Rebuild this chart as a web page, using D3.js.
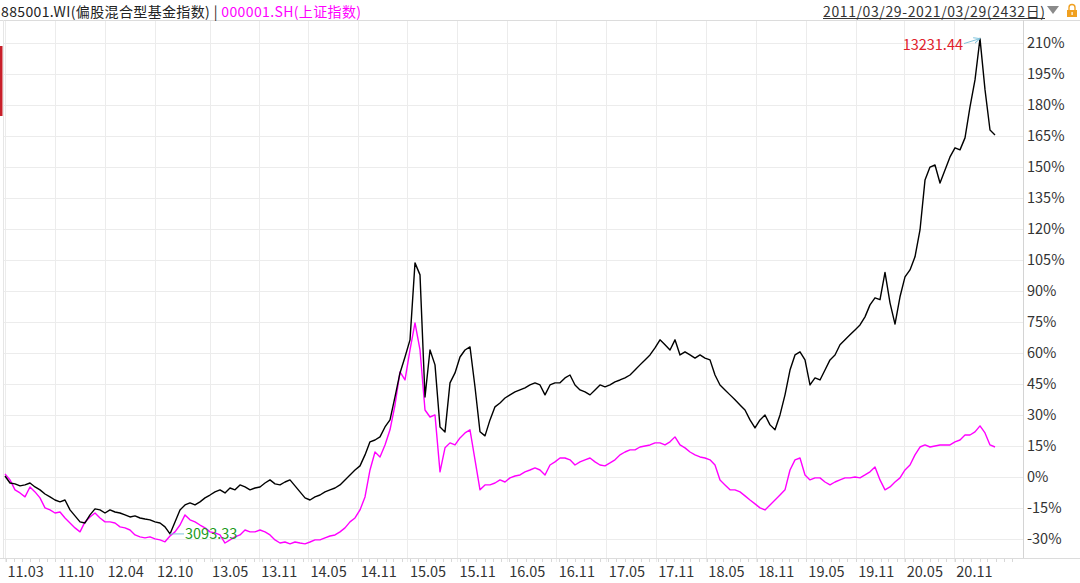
<!DOCTYPE html>
<html><head><meta charset="utf-8">
<script src="https://cdn.jsdelivr.net/npm/d3@7"></script>
<style>
body{margin:0;background:#fff;}
svg{display:block;font-family:"Noto Sans CJK SC","Noto Sans",sans-serif;}
</style>
</head><body>
<svg id="chart" width="1080" height="583"></svg>
<script>
// ---- data (cumulative return, %) ----
const startDate = "2011-03-29";
const endDate = "2021-03-29";
const fundSeriesName = "885001.WI(偏股混合型基金指数)";
const shSeriesName = "000001.SH(上证指数)";
const rangeLabel = "2011/03/29-2021/03/29(2432日)";
const maxLabel = "13231.44";
const minLabel = "3093.33";

const fundValues = [
  0.6, -2.8, -3.2, -4.2, -3.7, -2.8, -4.7, -6.1, -8.1, -9.5,
  -11.0, -11.9, -11.0, -15.8, -18.7, -21.6, -22.1, -18.2, -15.3, -15.8,
  -17.3, -15.8, -16.8, -17.3, -18.2, -19.2, -18.7, -19.7, -20.2, -20.6,
  -21.6, -22.1, -24.0, -27.4, -21.6, -15.8, -13.4, -12.4, -13.4, -11.9,
  -10.0, -8.6, -7.1, -6.1, -7.6, -5.2, -6.1, -3.7, -4.7, -6.1,
  -5.2, -4.7, -2.8, -1.3, -3.2, -3.7, -2.3, -1.3, -4.2, -7.1,
  -10.0, -11.0, -9.5, -8.6, -7.1, -6.1, -5.2, -3.7, -1.3, 1.1,
  3.5, 5.5, 10.8, 17.1, 18.0, 19.5, 24.3, 27.7, 38.8, 50.4,
  58.1, 66.4, 103.6, 97.8, 38.8, 61.5, 54.3, 24.3, 21.9, 45.6,
  50.4, 58.1, 61.5, 63.0, 43.6, 22.0, 20.0, 27.7, 34.0, 35.9,
  38.3, 39.8, 41.2, 42.2, 43.2, 44.6, 45.6, 44.6, 39.8, 44.6,
  45.6, 45.6, 48.0, 49.4, 44.6, 42.2, 41.2, 39.8, 42.2, 44.6,
  43.7, 44.6, 46.1, 47.0, 48.0, 49.4, 51.8, 54.3, 56.7, 59.1,
  62.5, 66.4, 64.0, 61.5, 66.4, 59.1, 60.6, 59.1, 57.6, 59.1,
  57.6, 56.7, 49.4, 44.6, 42.2, 39.8, 37.4, 34.9, 32.5, 27.7,
  23.8, 27.7, 30.1, 25.3, 22.9, 30.1, 39.8, 51.8, 59.1, 60.6,
  56.7, 44.6, 48.0, 47.0, 51.8, 56.7, 59.1, 64.0, 66.4, 68.8,
  71.2, 73.6, 77.5, 83.3, 86.7, 85.8, 99.0, 84.3, 74.0, 87.2,
  96.8, 100.2, 106.5, 119.5, 143.6, 149.9, 150.9, 142.2, 148.5, 154.8,
  159.2, 158.2, 164.0, 179.0, 192.0, 212.0, 187.3, 167.8, 165.4
];

const shValues = [
  1.6, -1.3, -6.1, -7.6, -9.5, -4.7, -7.1, -10.0, -14.8, -15.8,
  -17.3, -16.8, -19.7, -22.1, -24.5, -26.4, -21.6, -19.2, -17.3, -19.7,
  -21.6, -21.6, -22.1, -24.0, -24.5, -25.5, -27.9, -28.8, -29.3, -28.8,
  -29.8, -30.3, -31.2, -28.4, -26.4, -23.1, -18.2, -20.6, -21.6, -23.1,
  -24.5, -26.4, -26.9, -27.9, -31.8, -30.3, -28.8, -27.9, -25.5, -26.4,
  -26.4, -25.5, -26.4, -27.9, -30.3, -31.8, -31.3, -32.2, -31.3, -31.8,
  -32.2, -31.3, -30.3, -30.3, -29.3, -28.4, -27.9, -26.4, -24.5, -21.6,
  -19.7, -15.8, -9.5, 3.5, 12.2, 9.8, 15.6, 22.9, 34.9, 50.9,
  47.0, 61.5, 74.6, 61.5, 32.5, 29.1, 30.1, 2.6, 14.2, 16.6,
  15.6, 19.0, 21.4, 22.9, 8.4, -6.1, -3.7, -3.7, -2.8, -1.3,
  -2.3, -0.3, 0.6, 1.1, 2.6, 3.5, 4.5, 3.5, 1.1, 5.9,
  7.4, 9.3, 9.3, 8.4, 5.9, 7.4, 8.4, 9.3, 7.4, 5.9,
  5.5, 6.9, 8.4, 10.8, 12.2, 13.2, 13.2, 14.6, 15.1, 15.6,
  16.6, 16.6, 15.6, 17.1, 19.5, 15.6, 14.2, 12.2, 10.8, 9.8,
  9.3, 8.4, 5.9, -1.3, -3.7, -6.1, -6.1, -7.1, -9.0, -11.0,
  -12.9, -14.8, -15.8, -13.4, -11.0, -8.6, -6.1, 3.5, 8.4, 9.3,
  1.1, -1.3, -0.3, -0.3, -2.3, -3.7, -2.3, -1.3, -0.3, -0.3,
  0.1, -0.3, 1.1, 2.6, 5.0, -1.3, -6.1, -4.7, -2.3, -0.3,
  3.5, 5.9, 10.8, 14.6, 15.6, 14.6, 15.1, 15.6, 15.6, 15.6,
  17.1, 18.0, 20.4, 20.4, 21.9, 24.8, 21.4, 15.6, 14.6
];

const yTickValues = [-30, -15, 0, 15, 30, 45, 60, 75, 90, 105, 120, 135, 150, 165, 180, 195, 210];
const xTickLabels = ["11.03","11.10","12.04","12.10","13.05","13.11","14.05","14.11","15.05","15.11",
                     "16.05","16.11","17.05","17.11","18.05","18.11","19.05","19.11","20.05","20.11"];
const xTickDates = ["2011-03-29","2011-10-01","2012-04-01","2012-10-01","2013-04-22","2013-10-20",
                    "2014-04-20","2014-10-22","2015-04-22","2015-10-22","2016-04-22","2016-10-22",
                    "2017-04-25","2017-10-24","2018-04-27","2018-10-28","2019-05-01","2019-11-01",
                    "2020-04-28","2020-10-28"];

// ---- drawing ----
const W = 1080, H = 583;
const plotLeft = 3, plotRight = 1023, plotTop = 20, plotBottom = 558;
const parse = d3.timeParse("%Y-%m-%d");
const t0 = parse(startDate), t1 = parse(endDate);

const x = d3.scaleTime().domain([t0, t1]).range([5, 995]);
const y = d3.scaleLinear().domain([-30, 210]).range([539.3, 42.7]);

function toSeries(vals) {
  const n = vals.length;
  return vals.map((v, i) => ({ date: new Date(+t0 + (t1 - t0) * i / (n - 1)), value: v }));
}
const fund = toSeries(fundValues);
const sh = toSeries(shValues);

const svg = d3.select("#chart");
svg.append("rect").attr("width", W).attr("height", H).attr("fill", "#fff");

// grid
const grid = svg.append("g").attr("stroke", "#ececec").attr("stroke-width", 1);
grid.selectAll("line.h").data(yTickValues).join("line")
  .attr("x1", plotLeft).attr("x2", plotRight)
  .attr("y1", d => Math.round(y(d)) + 0.5).attr("y2", d => Math.round(y(d)) + 0.5);
grid.selectAll("line.v").data(xTickDates.map(parse)).join("line")
  .attr("y1", plotTop).attr("y2", plotBottom + 4)
  .attr("x1", d => Math.round(x(d)) + 0.5).attr("x2", d => Math.round(x(d)) + 0.5);

// frame lines
svg.append("line").attr("x1", 0).attr("x2", W).attr("y1", plotTop + 0.5).attr("y2", plotTop + 0.5).attr("stroke", "#dcdcdc");
svg.append("line").attr("x1", 0).attr("x2", W).attr("y1", plotBottom + 0.5).attr("y2", plotBottom + 0.5).attr("stroke", "#dcdcdc");
svg.append("line").attr("x1", plotLeft + 0.5).attr("x2", plotLeft + 0.5).attr("y1", plotTop).attr("y2", plotBottom).attr("stroke", "#e6e6e6");
svg.append("line").attr("x1", plotRight + 0.5).attr("x2", plotRight + 0.5).attr("y1", plotTop).attr("y2", plotBottom).attr("stroke", "#d4d4d4");

// red marker at left
svg.append("rect").attr("x", 0).attr("y", 46).attr("width", 2.5).attr("height", 70).attr("fill", "#c8202a");

// right axis
const yAxis = d3.axisRight(y).tickValues(yTickValues).tickSize(0).tickPadding(4)
  .tickFormat(d => d + "%");
const gy = svg.append("g").attr("transform", `translate(${plotRight},0)`).call(yAxis);
gy.select(".domain").remove();
gy.selectAll("text").attr("fill", "#333").style("font-size", "14.5px").style("font-family", '"Noto Sans CJK SC",sans-serif');

// bottom axis: minor monthly ticks
const minor = d3.timeMonth.range(t0, d3.timeMonth.offset(t1, 3));
svg.append("g").selectAll("line").data(minor).join("line")
  .attr("x1", d => Math.round(x(d)) + 0.5).attr("x2", d => Math.round(x(d)) + 0.5)
  .attr("y1", plotBottom + 1).attr("y2", plotBottom + 4)
  .attr("stroke", "#d8d8d8").filter(d => x(d) > plotRight).remove();

const xAxis = d3.axisBottom(x).tickValues(xTickDates.map(parse)).tickSize(0).tickPadding(0)
  .tickFormat((d, i) => xTickLabels[i]);
const gx = svg.append("g").attr("transform", `translate(0,${plotBottom})`).call(xAxis);
gx.select(".domain").remove();
gx.selectAll("text").attr("text-anchor", "start").attr("dx", 2).attr("dy", 19)
  .attr("y", 0).attr("fill", "#333").style("font-size", "14.5px").style("font-family", '"Noto Sans CJK SC",sans-serif');

// lines
const line = d3.line().x(d => x(d.date)).y(d => y(d.value));
svg.append("path").datum(sh).attr("d", line).attr("fill", "none").attr("stroke", "#ff00ff").attr("stroke-width", 1.4).attr("stroke-linejoin", "round");
svg.append("path").datum(fund).attr("d", line).attr("fill", "none").attr("stroke", "#000").attr("stroke-width", 1.4).attr("stroke-linejoin", "round");

// annotations
const maxPt = fund.reduce((a, b) => b.value > a.value ? b : a);
const minPt = fund.reduce((a, b) => b.value < a.value ? b : a);
const mx = x(maxPt.date), my = y(maxPt.value);
const nx = x(minPt.date), ny = y(minPt.value);
svg.append("defs").append("marker").attr("id", "arr").attr("viewBox", "0 0 10 10")
  .attr("refX", 9).attr("refY", 5).attr("markerWidth", 7).attr("markerHeight", 7).attr("orient", "auto")
  .append("path").attr("d", "M0,1 L9,5 L0,9").attr("fill", "none").attr("stroke", "#7fc3dc").attr("stroke-width", 1.3);
svg.append("line").attr("x1", mx - 16).attr("y1", my + 5).attr("x2", mx).attr("y2", my)
  .attr("stroke", "#7fc3dc").attr("marker-end", "url(#arr)");
svg.append("text").attr("x", mx - 17).attr("y", my + 11).attr("text-anchor", "end")
  .attr("fill", "#e0202a").style("font-size", "14.5px").text(maxLabel);
svg.append("line").attr("x1", nx).attr("y1", ny).attr("x2", nx + 14).attr("y2", ny)
  .attr("stroke", "#7fc3dc");
svg.append("text").attr("x", nx + 15).attr("y", ny + 5).attr("text-anchor", "start")
  .attr("fill", "#1a9a1a").style("font-size", "14.5px").text(minLabel);

// header (baseline low enough that the font box stays inside the picture)
const hdr = svg.append("text").attr("x", 1).attr("y", 16.5).style("font-size", "14px")
  .attr("textLength", 360).attr("lengthAdjust", "spacing");
hdr.append("tspan").attr("fill", "#222").text(fundSeriesName + " | ");
hdr.append("tspan").attr("fill", "#ff00ff").text(shSeriesName);

const rl = svg.append("text").attr("x", 823).attr("y", 16.5).attr("text-anchor", "start")
  .attr("fill", "#333").style("font-size", "14px")
  .attr("textLength", 222).attr("lengthAdjust", "spacing").text(rangeLabel);
svg.append("line").attr("x1", 823).attr("x2", 1045).attr("y1", 18.5).attr("y2", 18.5)
  .attr("stroke", "#333").attr("stroke-width", 1);
svg.append("path").attr("d", "M1047,6 L1059,6 L1053,14 Z").attr("fill", "#8a8a8a");
// lock icon
svg.append("path").attr("d", "M1069,10 v-2.5 a3,3 0 0 1 6,0 v2.5").attr("fill", "none").attr("stroke", "#f0a020").attr("stroke-width", 1.4);
svg.append("rect").attr("x", 1067).attr("y", 10).attr("width", 10).attr("height", 7).attr("fill", "#f0a020");
svg.append("rect").attr("x", 1071.5).attr("y", 12).attr("width", 1.2).attr("height", 3).attr("fill", "#fff");
</script>
</body></html>
